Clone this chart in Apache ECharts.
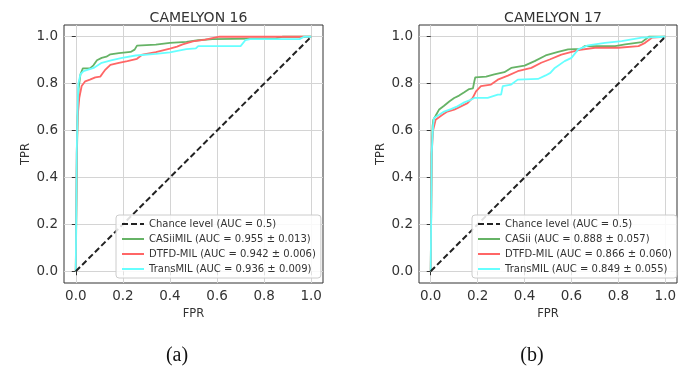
<!DOCTYPE html>
<html>
<head>
<meta charset="utf-8">
<script src="https://cdn.jsdelivr.net/npm/echarts@6/dist/echarts.min.js"></script>
<style>
html,body{margin:0;padding:0;background:#fff;}
#chart{width:694px;height:366px;}
</style>
</head>
<body>
<div id="chart"></div>
<script>
// ---- data ----
const panelTitles = ['CAMELYON 16', 'CAMELYON 17'];
const panelCaptions = ['(a)', '(b)'];
const tickValues = [0, 0.2, 0.4, 0.6, 0.8, 1.0];
const tickLabels = ['0.0', '0.2', '0.4', '0.6', '0.8', '1.0'];
const xName = 'FPR';
const yName = 'TPR';

const chanceName = 'Chance level (AUC = 0.5)';
const chance = [[0, 0], [1, 1]];

const namesA = ['CASiiMIL (AUC = 0.955 ± 0.013)', 'DTFD-MIL (AUC = 0.942 ± 0.006)', 'TransMIL (AUC = 0.936 ± 0.009)'];
const namesB = ['CASii (AUC = 0.888 ± 0.057)', 'DTFD-MIL (AUC = 0.866 ± 0.060)', 'TransMIL (AUC = 0.849 ± 0.055)'];

const c16_casii = [[0,0],[0.005,0.5],[0.008,0.66],[0.012,0.78],[0.02,0.84],[0.03,0.865],[0.06,0.865],[0.075,0.878],[0.09,0.9],[0.11,0.91],[0.13,0.915],[0.147,0.925],[0.183,0.93],[0.233,0.935],[0.25,0.945],[0.26,0.962],[0.34,0.966],[0.4,0.974],[0.47,0.978],[0.52,0.985],[0.58,0.99],[0.85,0.993],[0.88,1.0],[1,1]];
const c16_dtfd = [[0,0],[0.004,0.5],[0.008,0.66],[0.015,0.74],[0.025,0.79],[0.04,0.81],[0.06,0.817],[0.083,0.827],[0.104,0.83],[0.115,0.845],[0.126,0.86],[0.147,0.88],[0.183,0.889],[0.219,0.896],[0.26,0.906],[0.283,0.924],[0.34,0.934],[0.4,0.949],[0.43,0.958],[0.454,0.967],[0.497,0.98],[0.55,0.988],[0.61,1.0],[1,1]];
const c16_trans = [[0,0],[0.004,0.5],[0.008,0.7],[0.011,0.8],[0.02,0.84],[0.033,0.853],[0.076,0.867],[0.11,0.889],[0.154,0.9],[0.197,0.91],[0.254,0.92],[0.34,0.927],[0.4,0.933],[0.426,0.939],[0.47,0.947],[0.51,0.95],[0.52,0.96],[0.7,0.96],[0.72,0.985],[0.74,0.99],[0.95,0.99],[0.97,1.0],[1,1]];

const c17_casii = [[0,0],[0.004,0.5],[0.008,0.62],[0.011,0.646],[0.021,0.663],[0.036,0.69],[0.057,0.706],[0.079,0.724],[0.1,0.739],[0.121,0.749],[0.143,0.763],[0.164,0.777],[0.18,0.78],[0.186,0.81],[0.19,0.827],[0.236,0.83],[0.271,0.839],[0.314,0.849],[0.343,0.867],[0.4,0.877],[0.443,0.896],[0.49,0.92],[0.543,0.935],[0.586,0.946],[0.64,0.948],[0.657,0.96],[0.786,0.96],[0.829,0.967],[0.9,0.977],[0.93,1.0],[1,1]];
const c17_dtfd = [[0,0],[0.004,0.5],[0.01,0.6],[0.021,0.646],[0.05,0.667],[0.071,0.681],[0.1,0.689],[0.129,0.703],[0.157,0.717],[0.179,0.739],[0.193,0.767],[0.214,0.789],[0.257,0.796],[0.286,0.817],[0.329,0.834],[0.371,0.853],[0.429,0.867],[0.471,0.889],[0.507,0.903],[0.557,0.924],[0.629,0.943],[0.7,0.953],[0.8,0.953],[0.886,0.96],[0.914,0.974],[0.943,0.996],[1,1]];
const c17_trans = [[0,0],[0.004,0.5],[0.01,0.62],[0.014,0.653],[0.036,0.667],[0.057,0.681],[0.086,0.691],[0.114,0.703],[0.143,0.72],[0.171,0.731],[0.186,0.739],[0.243,0.739],[0.286,0.753],[0.3,0.753],[0.307,0.789],[0.343,0.796],[0.371,0.817],[0.457,0.82],[0.49,0.835],[0.51,0.846],[0.529,0.867],[0.571,0.896],[0.6,0.91],[0.629,0.946],[0.671,0.963],[0.743,0.974],[0.814,0.981],[0.9,0.996],[1,1]];

// ---- styling / layout ----
const FONT = 'DejaVu Sans';
const colors = ['#66b366', '#ff6666', '#66ffff'];
const grids = [
  {left: 64, top: 25, width: 259, height: 258},
  {left: 419, top: 25, width: 258, height: 258}
];

function fmtTick(v) {
  const i = tickValues.findIndex(t => Math.abs(t - v) < 1e-9);
  return i >= 0 ? tickLabels[i] : '';
}
function mkX(i) {
  return {
    type: 'value', gridIndex: i, min: -0.05, max: 1.05,
    name: xName, nameLocation: 'middle', nameGap: 25,
    nameTextStyle: {fontFamily: FONT, fontSize: 11.5, color: '#333'},
    axisLine: {show: false},
    axisTick: {show: true, inside: false, length: 4, lineStyle: {color: '#333'}, customValues: tickValues},
    axisLabel: {customValues: tickValues, formatter: fmtTick, fontFamily: FONT, fontSize: 13.5, color: '#333', margin: 6},
    splitLine: {show: true, lineStyle: {color: '#d4d4d4', width: 1}}
  };
}
function mkY(i) {
  return {
    type: 'value', gridIndex: i, min: -0.05, max: 1.05,
    name: yName, nameLocation: 'middle', nameGap: 32, nameRotate: 90,
    nameTextStyle: {fontFamily: FONT, fontSize: 11.5, color: '#333'},
    axisLine: {show: false},
    axisTick: {show: true, inside: false, length: 4, lineStyle: {color: '#333'}, customValues: tickValues},
    axisLabel: {customValues: tickValues, formatter: fmtTick, fontFamily: FONT, fontSize: 13.5, color: '#333', margin: 6},
    splitLine: {show: true, lineStyle: {color: '#d4d4d4', width: 1}}
  };
}
function lineSeries(name, data, color, idx, dashed) {
  return {
    type: 'line', name: name, data: data, xAxisIndex: idx, yAxisIndex: idx,
    symbol: 'none', showSymbol: false, animation: false, z: dashed ? 3 : 2,
    lineStyle: {color: color, width: dashed ? 2 : 1.8, type: dashed ? [6, 3] : 'solid'},
    itemStyle: {color: color}
  };
}

const series = [
  lineSeries(chanceName, chance, '#222', 0, true),
  lineSeries(namesA[0], c16_casii, colors[0], 0),
  lineSeries(namesA[1], c16_dtfd, colors[1], 0),
  lineSeries(namesA[2], c16_trans, colors[2], 0),
  lineSeries(chanceName, chance, '#222', 1, true),
  lineSeries(namesB[0], c17_casii, colors[0], 1),
  lineSeries(namesB[1], c17_dtfd, colors[1], 1),
  lineSeries(namesB[2], c17_trans, colors[2], 1)
];

function mkLegend(left, names) {
  return {
    orient: 'vertical', left: left, top: 215,
    data: [chanceName].concat(names),
    itemWidth: 22, itemHeight: 12, itemGap: 3,
    padding: [3, 5, 3, 5],
    backgroundColor: 'rgba(255,255,255,0.85)',
    borderColor: '#cccccc', borderWidth: 1, borderRadius: 3,
    itemStyle: {opacity: 0, borderWidth: 0},
    textStyle: {fontFamily: FONT, fontSize: 10, color: '#333', lineHeight: 12},
    selectedMode: false
  };
}

const option = {
  animation: false,
  backgroundColor: '#fff',
  title: [
    {text: panelTitles[0], left: 193.5, top: 6, textAlign: 'center', textStyle: {fontFamily: FONT, fontSize: 14, fontWeight: 'normal', color: '#333'}},
    {text: panelTitles[1], left: 548, top: 6, textAlign: 'center', textStyle: {fontFamily: FONT, fontSize: 14, fontWeight: 'normal', color: '#333'}},
    {text: panelCaptions[0], left: 172, top: 341, textAlign: 'center', textStyle: {fontFamily: 'Liberation Serif', fontSize: 20, fontWeight: 'normal', color: '#111'}},
    {text: panelCaptions[1], left: 527, top: 341, textAlign: 'center', textStyle: {fontFamily: 'Liberation Serif', fontSize: 20, fontWeight: 'normal', color: '#111'}}
  ],
  grid: grids.map(g => Object.assign({show: true, borderColor: '#333', borderWidth: 1, backgroundColor: 'transparent', containLabel: false}, g)),
  xAxis: [mkX(0), mkX(1)],
  yAxis: [mkY(0), mkY(1)],
  legend: [mkLegend(116, namesA), mkLegend(472, namesB)],
  series: series
};

const chart = echarts.init(document.getElementById('chart'), null, {renderer: 'canvas'});
chart.setOption(option);
</script>
</body>
</html>
